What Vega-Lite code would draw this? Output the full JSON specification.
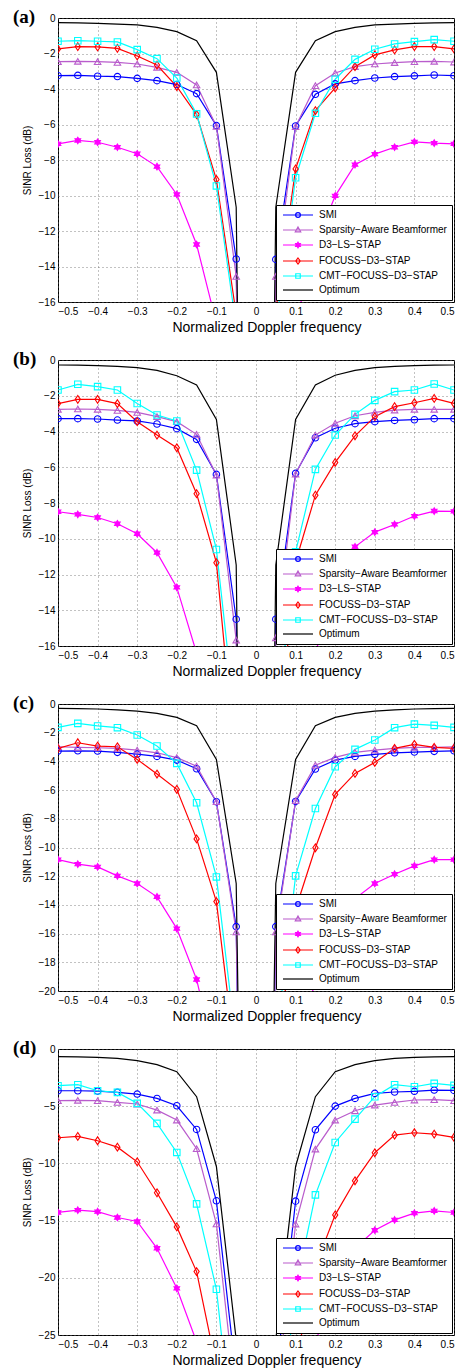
{
"$schema": "https://vega.github.io/schema/vega-lite/v6.json",
"background": "white",
"padding": {"left": 12, "top": 7, "right": 5, "bottom": 0},
"datasets": {
"names": [{"k":"SMI","name":"SMI"},{"k":"SAB","name":"Sparsity−Aware Beamformer"},{"k":"D3","name":"D3−LS−STAP"},{"k":"FOC","name":"FOCUSS−D3−STAP"},{"k":"CMT","name":"CMT−FOCUSS−D3−STAP"},{"k":"OPT","name":"Optimum"}],
"sinr": [
{"p":"a","k":"SMI","f":-0.5,"v":-3.25},{"p":"a","k":"SMI","f":-0.45,"v":-3.23},{"p":"a","k":"SMI","f":-0.4,"v":-3.28},{"p":"a","k":"SMI","f":-0.35,"v":-3.3},{"p":"a","k":"SMI","f":-0.3,"v":-3.4},{"p":"a","k":"SMI","f":-0.25,"v":-3.53},{"p":"a","k":"SMI","f":-0.2,"v":-3.75},{"p":"a","k":"SMI","f":-0.15,"v":-4.26},{"p":"a","k":"SMI","f":-0.1,"v":-6.06},{"p":"a","k":"SMI","f":-0.05,"v":-13.58},{"p":"a","k":"SMI","f":0,"v":-100},{"p":"a","k":"SMI","f":0.05,"v":-13.6},{"p":"a","k":"SMI","f":0.1,"v":-6.08},{"p":"a","k":"SMI","f":0.15,"v":-4.3},{"p":"a","k":"SMI","f":0.2,"v":-3.71},{"p":"a","k":"SMI","f":0.25,"v":-3.53},{"p":"a","k":"SMI","f":0.3,"v":-3.38},{"p":"a","k":"SMI","f":0.35,"v":-3.3},{"p":"a","k":"SMI","f":0.4,"v":-3.26},{"p":"a","k":"SMI","f":0.45,"v":-3.21},{"p":"a","k":"SMI","f":0.5,"v":-3.25},
{"p":"a","k":"SAB","f":-0.5,"v":-2.46},{"p":"a","k":"SAB","f":-0.45,"v":-2.44},{"p":"a","k":"SAB","f":-0.4,"v":-2.46},{"p":"a","k":"SAB","f":-0.35,"v":-2.5},{"p":"a","k":"SAB","f":-0.3,"v":-2.59},{"p":"a","k":"SAB","f":-0.25,"v":-2.78},{"p":"a","k":"SAB","f":-0.2,"v":-3.06},{"p":"a","k":"SAB","f":-0.15,"v":-3.77},{"p":"a","k":"SAB","f":-0.1,"v":-6.1},{"p":"a","k":"SAB","f":-0.05,"v":-14.56},{"p":"a","k":"SAB","f":0,"v":-100},{"p":"a","k":"SAB","f":0.05,"v":-14.56},{"p":"a","k":"SAB","f":0.1,"v":-6.12},{"p":"a","k":"SAB","f":0.15,"v":-3.81},{"p":"a","k":"SAB","f":0.2,"v":-3.1},{"p":"a","k":"SAB","f":0.25,"v":-2.74},{"p":"a","k":"SAB","f":0.3,"v":-2.59},{"p":"a","k":"SAB","f":0.35,"v":-2.51},{"p":"a","k":"SAB","f":0.4,"v":-2.46},{"p":"a","k":"SAB","f":0.45,"v":-2.44},{"p":"a","k":"SAB","f":0.5,"v":-2.48},
{"p":"a","k":"D3","f":-0.5,"v":-7.09},{"p":"a","k":"D3","f":-0.45,"v":-6.9},{"p":"a","k":"D3","f":-0.4,"v":-7.0},{"p":"a","k":"D3","f":-0.35,"v":-7.28},{"p":"a","k":"D3","f":-0.3,"v":-7.65},{"p":"a","k":"D3","f":-0.25,"v":-8.37},{"p":"a","k":"D3","f":-0.2,"v":-9.94},{"p":"a","k":"D3","f":-0.15,"v":-12.76},{"p":"a","k":"D3","f":-0.1,"v":-17.2},{"p":"a","k":"D3","f":-0.05,"v":-30},{"p":"a","k":"D3","f":0,"v":-100},{"p":"a","k":"D3","f":0.05,"v":-30},{"p":"a","k":"D3","f":0.1,"v":-17.2},{"p":"a","k":"D3","f":0.15,"v":-12.8},{"p":"a","k":"D3","f":0.2,"v":-10.02},{"p":"a","k":"D3","f":0.25,"v":-8.26},{"p":"a","k":"D3","f":0.3,"v":-7.67},{"p":"a","k":"D3","f":0.35,"v":-7.28},{"p":"a","k":"D3","f":0.4,"v":-6.98},{"p":"a","k":"D3","f":0.45,"v":-7.05},{"p":"a","k":"D3","f":0.5,"v":-7.09},
{"p":"a","k":"FOC","f":-0.5,"v":-1.74},{"p":"a","k":"FOC","f":-0.45,"v":-1.61},{"p":"a","k":"FOC","f":-0.4,"v":-1.63},{"p":"a","k":"FOC","f":-0.35,"v":-1.71},{"p":"a","k":"FOC","f":-0.3,"v":-2.14},{"p":"a","k":"FOC","f":-0.25,"v":-2.65},{"p":"a","k":"FOC","f":-0.2,"v":-3.86},{"p":"a","k":"FOC","f":-0.15,"v":-5.44},{"p":"a","k":"FOC","f":-0.1,"v":-9.1},{"p":"a","k":"FOC","f":-0.05,"v":-16.7},{"p":"a","k":"FOC","f":0,"v":-100},{"p":"a","k":"FOC","f":0.05,"v":-16.5},{"p":"a","k":"FOC","f":0.1,"v":-8.5},{"p":"a","k":"FOC","f":0.15,"v":-5.22},{"p":"a","k":"FOC","f":0.2,"v":-3.94},{"p":"a","k":"FOC","f":0.25,"v":-2.74},{"p":"a","k":"FOC","f":0.3,"v":-2.08},{"p":"a","k":"FOC","f":0.35,"v":-1.8},{"p":"a","k":"FOC","f":0.4,"v":-1.61},{"p":"a","k":"FOC","f":0.45,"v":-1.61},{"p":"a","k":"FOC","f":0.5,"v":-1.74},
{"p":"a","k":"CMT","f":-0.5,"v":-1.31},{"p":"a","k":"CMT","f":-0.45,"v":-1.28},{"p":"a","k":"CMT","f":-0.4,"v":-1.31},{"p":"a","k":"CMT","f":-0.35,"v":-1.35},{"p":"a","k":"CMT","f":-0.3,"v":-1.78},{"p":"a","k":"CMT","f":-0.25,"v":-2.29},{"p":"a","k":"CMT","f":-0.2,"v":-3.38},{"p":"a","k":"CMT","f":-0.15,"v":-5.4},{"p":"a","k":"CMT","f":-0.1,"v":-9.46},{"p":"a","k":"CMT","f":-0.05,"v":-17.4},{"p":"a","k":"CMT","f":0,"v":-100},{"p":"a","k":"CMT","f":0.05,"v":-17.4},{"p":"a","k":"CMT","f":0.1,"v":-9.0},{"p":"a","k":"CMT","f":0.15,"v":-5.37},{"p":"a","k":"CMT","f":0.2,"v":-3.45},{"p":"a","k":"CMT","f":0.25,"v":-2.33},{"p":"a","k":"CMT","f":0.3,"v":-1.76},{"p":"a","k":"CMT","f":0.35,"v":-1.46},{"p":"a","k":"CMT","f":0.4,"v":-1.33},{"p":"a","k":"CMT","f":0.45,"v":-1.22},{"p":"a","k":"CMT","f":0.5,"v":-1.31},
{"p":"a","k":"OPT","f":-0.5,"v":-0.26},{"p":"a","k":"OPT","f":-0.45,"v":-0.28},{"p":"a","k":"OPT","f":-0.4,"v":-0.3},{"p":"a","k":"OPT","f":-0.35,"v":-0.34},{"p":"a","k":"OPT","f":-0.3,"v":-0.39},{"p":"a","k":"OPT","f":-0.25,"v":-0.53},{"p":"a","k":"OPT","f":-0.2,"v":-0.77},{"p":"a","k":"OPT","f":-0.15,"v":-1.28},{"p":"a","k":"OPT","f":-0.1,"v":-3.06},{"p":"a","k":"OPT","f":-0.05,"v":-10.66},{"p":"a","k":"OPT","f":0,"v":-100},{"p":"a","k":"OPT","f":0.05,"v":-10.66},{"p":"a","k":"OPT","f":0.1,"v":-3.06},{"p":"a","k":"OPT","f":0.15,"v":-1.28},{"p":"a","k":"OPT","f":0.2,"v":-0.77},{"p":"a","k":"OPT","f":0.25,"v":-0.53},{"p":"a","k":"OPT","f":0.3,"v":-0.39},{"p":"a","k":"OPT","f":0.35,"v":-0.34},{"p":"a","k":"OPT","f":0.4,"v":-0.3},{"p":"a","k":"OPT","f":0.45,"v":-0.28},{"p":"a","k":"OPT","f":0.5,"v":-0.26},
{"p":"b","k":"SMI","f":-0.5,"v":-3.28},{"p":"b","k":"SMI","f":-0.45,"v":-3.28},{"p":"b","k":"SMI","f":-0.4,"v":-3.3},{"p":"b","k":"SMI","f":-0.35,"v":-3.36},{"p":"b","k":"SMI","f":-0.3,"v":-3.41},{"p":"b","k":"SMI","f":-0.25,"v":-3.58},{"p":"b","k":"SMI","f":-0.2,"v":-3.84},{"p":"b","k":"SMI","f":-0.15,"v":-4.44},{"p":"b","k":"SMI","f":-0.1,"v":-6.4},{"p":"b","k":"SMI","f":-0.05,"v":-14.5},{"p":"b","k":"SMI","f":0,"v":-100},{"p":"b","k":"SMI","f":0.05,"v":-14.5},{"p":"b","k":"SMI","f":0.1,"v":-6.34},{"p":"b","k":"SMI","f":0.15,"v":-4.35},{"p":"b","k":"SMI","f":0.2,"v":-3.82},{"p":"b","k":"SMI","f":0.25,"v":-3.56},{"p":"b","k":"SMI","f":0.3,"v":-3.45},{"p":"b","k":"SMI","f":0.35,"v":-3.38},{"p":"b","k":"SMI","f":0.4,"v":-3.34},{"p":"b","k":"SMI","f":0.45,"v":-3.28},{"p":"b","k":"SMI","f":0.5,"v":-3.28},
{"p":"b","k":"SAB","f":-0.5,"v":-2.76},{"p":"b","k":"SAB","f":-0.45,"v":-2.74},{"p":"b","k":"SAB","f":-0.4,"v":-2.76},{"p":"b","k":"SAB","f":-0.35,"v":-2.82},{"p":"b","k":"SAB","f":-0.3,"v":-2.93},{"p":"b","k":"SAB","f":-0.25,"v":-3.17},{"p":"b","k":"SAB","f":-0.2,"v":-3.45},{"p":"b","k":"SAB","f":-0.15,"v":-4.16},{"p":"b","k":"SAB","f":-0.1,"v":-6.44},{"p":"b","k":"SAB","f":-0.05,"v":-15.67},{"p":"b","k":"SAB","f":0,"v":-100},{"p":"b","k":"SAB","f":0.05,"v":-15.54},{"p":"b","k":"SAB","f":0.1,"v":-6.38},{"p":"b","k":"SAB","f":0.15,"v":-4.2},{"p":"b","k":"SAB","f":0.2,"v":-3.54},{"p":"b","k":"SAB","f":0.25,"v":-3.12},{"p":"b","k":"SAB","f":0.3,"v":-2.93},{"p":"b","k":"SAB","f":0.35,"v":-2.8},{"p":"b","k":"SAB","f":0.4,"v":-2.76},{"p":"b","k":"SAB","f":0.45,"v":-2.76},{"p":"b","k":"SAB","f":0.5,"v":-2.76},
{"p":"b","k":"D3","f":-0.5,"v":-8.49},{"p":"b","k":"D3","f":-0.45,"v":-8.64},{"p":"b","k":"D3","f":-0.4,"v":-8.81},{"p":"b","k":"D3","f":-0.35,"v":-9.16},{"p":"b","k":"D3","f":-0.3,"v":-9.72},{"p":"b","k":"D3","f":-0.25,"v":-10.78},{"p":"b","k":"D3","f":-0.2,"v":-12.72},{"p":"b","k":"D3","f":-0.15,"v":-16.4},{"p":"b","k":"D3","f":-0.1,"v":-24},{"p":"b","k":"D3","f":-0.05,"v":-35},{"p":"b","k":"D3","f":0,"v":-100},{"p":"b","k":"D3","f":0.05,"v":-35},{"p":"b","k":"D3","f":0.1,"v":-24},{"p":"b","k":"D3","f":0.15,"v":-16.4},{"p":"b","k":"D3","f":0.2,"v":-12.5},{"p":"b","k":"D3","f":0.25,"v":-10.45},{"p":"b","k":"D3","f":0.3,"v":-9.63},{"p":"b","k":"D3","f":0.35,"v":-9.2},{"p":"b","k":"D3","f":0.4,"v":-8.73},{"p":"b","k":"D3","f":0.45,"v":-8.45},{"p":"b","k":"D3","f":0.5,"v":-8.47},
{"p":"b","k":"FOC","f":-0.5,"v":-2.44},{"p":"b","k":"FOC","f":-0.45,"v":-2.2},{"p":"b","k":"FOC","f":-0.4,"v":-2.2},{"p":"b","k":"FOC","f":-0.35,"v":-2.44},{"p":"b","k":"FOC","f":-0.3,"v":-3.45},{"p":"b","k":"FOC","f":-0.25,"v":-4.2},{"p":"b","k":"FOC","f":-0.2,"v":-4.91},{"p":"b","k":"FOC","f":-0.15,"v":-7.48},{"p":"b","k":"FOC","f":-0.1,"v":-11.34},{"p":"b","k":"FOC","f":-0.05,"v":-23},{"p":"b","k":"FOC","f":0,"v":-100},{"p":"b","k":"FOC","f":0.05,"v":-23},{"p":"b","k":"FOC","f":0.1,"v":-11.3},{"p":"b","k":"FOC","f":0.15,"v":-7.56},{"p":"b","k":"FOC","f":0.2,"v":-5.73},{"p":"b","k":"FOC","f":0.25,"v":-4.24},{"p":"b","k":"FOC","f":0.3,"v":-3.17},{"p":"b","k":"FOC","f":0.35,"v":-2.61},{"p":"b","k":"FOC","f":0.4,"v":-2.39},{"p":"b","k":"FOC","f":0.45,"v":-2.15},{"p":"b","k":"FOC","f":0.5,"v":-2.43},
{"p":"b","k":"CMT","f":-0.5,"v":-1.68},{"p":"b","k":"CMT","f":-0.45,"v":-1.36},{"p":"b","k":"CMT","f":-0.4,"v":-1.49},{"p":"b","k":"CMT","f":-0.35,"v":-1.68},{"p":"b","k":"CMT","f":-0.3,"v":-2.43},{"p":"b","k":"CMT","f":-0.25,"v":-3.08},{"p":"b","k":"CMT","f":-0.2,"v":-3.41},{"p":"b","k":"CMT","f":-0.15,"v":-6.16},{"p":"b","k":"CMT","f":-0.1,"v":-10.6},{"p":"b","k":"CMT","f":-0.05,"v":-20.6},{"p":"b","k":"CMT","f":0,"v":-100},{"p":"b","k":"CMT","f":0.05,"v":-20.6},{"p":"b","k":"CMT","f":0.1,"v":-10.73},{"p":"b","k":"CMT","f":0.15,"v":-6.12},{"p":"b","k":"CMT","f":0.2,"v":-4.2},{"p":"b","k":"CMT","f":0.25,"v":-3.04},{"p":"b","k":"CMT","f":0.3,"v":-2.26},{"p":"b","k":"CMT","f":0.35,"v":-1.77},{"p":"b","k":"CMT","f":0.4,"v":-1.68},{"p":"b","k":"CMT","f":0.45,"v":-1.34},{"p":"b","k":"CMT","f":0.5,"v":-1.68},
{"p":"b","k":"OPT","f":-0.5,"v":-0.28},{"p":"b","k":"OPT","f":-0.45,"v":-0.29},{"p":"b","k":"OPT","f":-0.4,"v":-0.32},{"p":"b","k":"OPT","f":-0.35,"v":-0.36},{"p":"b","k":"OPT","f":-0.3,"v":-0.43},{"p":"b","k":"OPT","f":-0.25,"v":-0.58},{"p":"b","k":"OPT","f":-0.2,"v":-0.88},{"p":"b","k":"OPT","f":-0.15,"v":-1.4},{"p":"b","k":"OPT","f":-0.1,"v":-3.32},{"p":"b","k":"OPT","f":-0.05,"v":-11.47},{"p":"b","k":"OPT","f":0,"v":-100},{"p":"b","k":"OPT","f":0.05,"v":-11.47},{"p":"b","k":"OPT","f":0.1,"v":-3.32},{"p":"b","k":"OPT","f":0.15,"v":-1.4},{"p":"b","k":"OPT","f":0.2,"v":-0.85},{"p":"b","k":"OPT","f":0.25,"v":-0.58},{"p":"b","k":"OPT","f":0.3,"v":-0.43},{"p":"b","k":"OPT","f":0.35,"v":-0.36},{"p":"b","k":"OPT","f":0.4,"v":-0.32},{"p":"b","k":"OPT","f":0.45,"v":-0.29},{"p":"b","k":"OPT","f":0.5,"v":-0.28},
{"p":"c","k":"SMI","f":-0.5,"v":-3.28},{"p":"c","k":"SMI","f":-0.45,"v":-3.26},{"p":"c","k":"SMI","f":-0.4,"v":-3.28},{"p":"c","k":"SMI","f":-0.35,"v":-3.37},{"p":"c","k":"SMI","f":-0.3,"v":-3.49},{"p":"c","k":"SMI","f":-0.25,"v":-3.65},{"p":"c","k":"SMI","f":-0.2,"v":-3.91},{"p":"c","k":"SMI","f":-0.15,"v":-4.51},{"p":"c","k":"SMI","f":-0.1,"v":-6.81},{"p":"c","k":"SMI","f":-0.05,"v":-15.51},{"p":"c","k":"SMI","f":0,"v":-100},{"p":"c","k":"SMI","f":0.05,"v":-15.51},{"p":"c","k":"SMI","f":0.1,"v":-6.79},{"p":"c","k":"SMI","f":0.15,"v":-4.53},{"p":"c","k":"SMI","f":0.2,"v":-3.91},{"p":"c","k":"SMI","f":0.25,"v":-3.65},{"p":"c","k":"SMI","f":0.3,"v":-3.51},{"p":"c","k":"SMI","f":0.35,"v":-3.4},{"p":"c","k":"SMI","f":0.4,"v":-3.35},{"p":"c","k":"SMI","f":0.45,"v":-3.3},{"p":"c","k":"SMI","f":0.5,"v":-3.26},
{"p":"c","k":"SAB","f":-0.5,"v":-2.98},{"p":"c","k":"SAB","f":-0.45,"v":-3.02},{"p":"c","k":"SAB","f":-0.4,"v":-3.05},{"p":"c","k":"SAB","f":-0.35,"v":-3.09},{"p":"c","k":"SAB","f":-0.3,"v":-3.21},{"p":"c","k":"SAB","f":-0.25,"v":-3.4},{"p":"c","k":"SAB","f":-0.2,"v":-3.74},{"p":"c","k":"SAB","f":-0.15,"v":-4.33},{"p":"c","k":"SAB","f":-0.1,"v":-6.81},{"p":"c","k":"SAB","f":-0.05,"v":-15.88},{"p":"c","k":"SAB","f":0,"v":-100},{"p":"c","k":"SAB","f":0.05,"v":-15.88},{"p":"c","k":"SAB","f":0.1,"v":-6.74},{"p":"c","k":"SAB","f":0.15,"v":-4.26},{"p":"c","k":"SAB","f":0.2,"v":-3.72},{"p":"c","k":"SAB","f":0.25,"v":-3.37},{"p":"c","k":"SAB","f":0.3,"v":-3.21},{"p":"c","k":"SAB","f":0.35,"v":-3.09},{"p":"c","k":"SAB","f":0.4,"v":-3.02},{"p":"c","k":"SAB","f":0.45,"v":-3.02},{"p":"c","k":"SAB","f":0.5,"v":-2.98},
{"p":"c","k":"D3","f":-0.5,"v":-10.84},{"p":"c","k":"D3","f":-0.45,"v":-11.16},{"p":"c","k":"D3","f":-0.4,"v":-11.35},{"p":"c","k":"D3","f":-0.35,"v":-11.98},{"p":"c","k":"D3","f":-0.3,"v":-12.51},{"p":"c","k":"D3","f":-0.25,"v":-13.44},{"p":"c","k":"D3","f":-0.2,"v":-15.65},{"p":"c","k":"D3","f":-0.15,"v":-19.2},{"p":"c","k":"D3","f":-0.1,"v":-25},{"p":"c","k":"D3","f":-0.05,"v":-35},{"p":"c","k":"D3","f":0,"v":-100},{"p":"c","k":"D3","f":0.05,"v":-35},{"p":"c","k":"D3","f":0.1,"v":-25},{"p":"c","k":"D3","f":0.15,"v":-19.2},{"p":"c","k":"D3","f":0.2,"v":-15.6},{"p":"c","k":"D3","f":0.25,"v":-13.56},{"p":"c","k":"D3","f":0.3,"v":-12.51},{"p":"c","k":"D3","f":0.35,"v":-11.86},{"p":"c","k":"D3","f":0.4,"v":-11.28},{"p":"c","k":"D3","f":0.45,"v":-10.84},{"p":"c","k":"D3","f":0.5,"v":-10.84},
{"p":"c","k":"FOC","f":-0.5,"v":-3.09},{"p":"c","k":"FOC","f":-0.45,"v":-2.7},{"p":"c","k":"FOC","f":-0.4,"v":-2.93},{"p":"c","k":"FOC","f":-0.35,"v":-2.98},{"p":"c","k":"FOC","f":-0.3,"v":-3.86},{"p":"c","k":"FOC","f":-0.25,"v":-4.88},{"p":"c","k":"FOC","f":-0.2,"v":-5.95},{"p":"c","k":"FOC","f":-0.15,"v":-9.4},{"p":"c","k":"FOC","f":-0.1,"v":-13.77},{"p":"c","k":"FOC","f":-0.05,"v":-25.2},{"p":"c","k":"FOC","f":0,"v":-100},{"p":"c","k":"FOC","f":0.05,"v":-25.2},{"p":"c","k":"FOC","f":0.1,"v":-14.3},{"p":"c","k":"FOC","f":0.15,"v":-10.02},{"p":"c","k":"FOC","f":0.2,"v":-6.3},{"p":"c","k":"FOC","f":0.25,"v":-4.84},{"p":"c","k":"FOC","f":0.3,"v":-4.07},{"p":"c","k":"FOC","f":0.35,"v":-3.09},{"p":"c","k":"FOC","f":0.4,"v":-2.81},{"p":"c","k":"FOC","f":0.45,"v":-3.02},{"p":"c","k":"FOC","f":0.5,"v":-3.09},
{"p":"c","k":"CMT","f":-0.5,"v":-1.63},{"p":"c","k":"CMT","f":-0.45,"v":-1.35},{"p":"c","k":"CMT","f":-0.4,"v":-1.53},{"p":"c","k":"CMT","f":-0.35,"v":-1.65},{"p":"c","k":"CMT","f":-0.3,"v":-2.16},{"p":"c","k":"CMT","f":-0.25,"v":-2.93},{"p":"c","k":"CMT","f":-0.2,"v":-4.14},{"p":"c","k":"CMT","f":-0.15,"v":-6.88},{"p":"c","k":"CMT","f":-0.1,"v":-12.05},{"p":"c","k":"CMT","f":-0.05,"v":-23.7},{"p":"c","k":"CMT","f":0,"v":-100},{"p":"c","k":"CMT","f":0.05,"v":-23.7},{"p":"c","k":"CMT","f":0.1,"v":-11.98},{"p":"c","k":"CMT","f":0.15,"v":-7.28},{"p":"c","k":"CMT","f":0.2,"v":-4.37},{"p":"c","k":"CMT","f":0.25,"v":-3.16},{"p":"c","k":"CMT","f":0.3,"v":-2.51},{"p":"c","k":"CMT","f":0.35,"v":-1.65},{"p":"c","k":"CMT","f":0.4,"v":-1.4},{"p":"c","k":"CMT","f":0.45,"v":-1.49},{"p":"c","k":"CMT","f":0.5,"v":-1.63},
{"p":"c","k":"OPT","f":-0.5,"v":-0.3},{"p":"c","k":"OPT","f":-0.45,"v":-0.32},{"p":"c","k":"OPT","f":-0.4,"v":-0.35},{"p":"c","k":"OPT","f":-0.35,"v":-0.41},{"p":"c","k":"OPT","f":-0.3,"v":-0.49},{"p":"c","k":"OPT","f":-0.25,"v":-0.65},{"p":"c","k":"OPT","f":-0.2,"v":-0.93},{"p":"c","k":"OPT","f":-0.15,"v":-1.51},{"p":"c","k":"OPT","f":-0.1,"v":-3.86},{"p":"c","k":"OPT","f":-0.05,"v":-12.51},{"p":"c","k":"OPT","f":0,"v":-100},{"p":"c","k":"OPT","f":0.05,"v":-12.51},{"p":"c","k":"OPT","f":0.1,"v":-3.86},{"p":"c","k":"OPT","f":0.15,"v":-1.51},{"p":"c","k":"OPT","f":0.2,"v":-0.93},{"p":"c","k":"OPT","f":0.25,"v":-0.65},{"p":"c","k":"OPT","f":0.3,"v":-0.49},{"p":"c","k":"OPT","f":0.35,"v":-0.41},{"p":"c","k":"OPT","f":0.4,"v":-0.35},{"p":"c","k":"OPT","f":0.45,"v":-0.32},{"p":"c","k":"OPT","f":0.5,"v":-0.3},
{"p":"d","k":"SMI","f":-0.5,"v":-3.65},{"p":"d","k":"SMI","f":-0.45,"v":-3.65},{"p":"d","k":"SMI","f":-0.4,"v":-3.68},{"p":"d","k":"SMI","f":-0.35,"v":-3.79},{"p":"d","k":"SMI","f":-0.3,"v":-3.94},{"p":"d","k":"SMI","f":-0.25,"v":-4.32},{"p":"d","k":"SMI","f":-0.2,"v":-4.96},{"p":"d","k":"SMI","f":-0.15,"v":-7.03},{"p":"d","k":"SMI","f":-0.1,"v":-13.27},{"p":"d","k":"SMI","f":-0.05,"v":-28.7},{"p":"d","k":"SMI","f":0,"v":-100},{"p":"d","k":"SMI","f":0.05,"v":-28.7},{"p":"d","k":"SMI","f":0.1,"v":-13.3},{"p":"d","k":"SMI","f":0.15,"v":-7.06},{"p":"d","k":"SMI","f":0.2,"v":-4.99},{"p":"d","k":"SMI","f":0.25,"v":-4.32},{"p":"d","k":"SMI","f":0.3,"v":-3.88},{"p":"d","k":"SMI","f":0.35,"v":-3.76},{"p":"d","k":"SMI","f":0.4,"v":-3.7},{"p":"d","k":"SMI","f":0.45,"v":-3.59},{"p":"d","k":"SMI","f":0.5,"v":-3.62},
{"p":"d","k":"SAB","f":-0.5,"v":-4.52},{"p":"d","k":"SAB","f":-0.45,"v":-4.49},{"p":"d","k":"SAB","f":-0.4,"v":-4.52},{"p":"d","k":"SAB","f":-0.35,"v":-4.67},{"p":"d","k":"SAB","f":-0.3,"v":-4.81},{"p":"d","k":"SAB","f":-0.25,"v":-5.34},{"p":"d","k":"SAB","f":-0.2,"v":-6.21},{"p":"d","k":"SAB","f":-0.15,"v":-8.72},{"p":"d","k":"SAB","f":-0.1,"v":-15.29},{"p":"d","k":"SAB","f":-0.05,"v":-30.9},{"p":"d","k":"SAB","f":0,"v":-100},{"p":"d","k":"SAB","f":0.05,"v":-30.9},{"p":"d","k":"SAB","f":0.1,"v":-15.3},{"p":"d","k":"SAB","f":0.15,"v":-8.75},{"p":"d","k":"SAB","f":0.2,"v":-6.21},{"p":"d","k":"SAB","f":0.25,"v":-5.4},{"p":"d","k":"SAB","f":0.3,"v":-4.9},{"p":"d","k":"SAB","f":0.35,"v":-4.67},{"p":"d","k":"SAB","f":0.4,"v":-4.46},{"p":"d","k":"SAB","f":0.45,"v":-4.43},{"p":"d","k":"SAB","f":0.5,"v":-4.52},
{"p":"d","k":"D3","f":-0.5,"v":-14.29},{"p":"d","k":"D3","f":-0.45,"v":-14.09},{"p":"d","k":"D3","f":-0.4,"v":-14.21},{"p":"d","k":"D3","f":-0.35,"v":-14.73},{"p":"d","k":"D3","f":-0.3,"v":-15.08},{"p":"d","k":"D3","f":-0.25,"v":-17.42},{"p":"d","k":"D3","f":-0.2,"v":-20.92},{"p":"d","k":"D3","f":-0.15,"v":-25.6},{"p":"d","k":"D3","f":-0.1,"v":-35},{"p":"d","k":"D3","f":-0.05,"v":-45},{"p":"d","k":"D3","f":0,"v":-100},{"p":"d","k":"D3","f":0.05,"v":-45},{"p":"d","k":"D3","f":0.1,"v":-35},{"p":"d","k":"D3","f":0.15,"v":-25.6},{"p":"d","k":"D3","f":0.2,"v":-20.9},{"p":"d","k":"D3","f":0.25,"v":-17.4},{"p":"d","k":"D3","f":0.3,"v":-15.84},{"p":"d","k":"D3","f":0.35,"v":-14.94},{"p":"d","k":"D3","f":0.4,"v":-14.35},{"p":"d","k":"D3","f":0.45,"v":-14.15},{"p":"d","k":"D3","f":0.5,"v":-14.29},
{"p":"d","k":"FOC","f":-0.5,"v":-7.76},{"p":"d","k":"FOC","f":-0.45,"v":-7.64},{"p":"d","k":"FOC","f":-0.4,"v":-8.02},{"p":"d","k":"FOC","f":-0.35,"v":-8.58},{"p":"d","k":"FOC","f":-0.3,"v":-9.86},{"p":"d","k":"FOC","f":-0.25,"v":-12.57},{"p":"d","k":"FOC","f":-0.2,"v":-15.55},{"p":"d","k":"FOC","f":-0.15,"v":-19.46},{"p":"d","k":"FOC","f":-0.1,"v":-27.8},{"p":"d","k":"FOC","f":-0.05,"v":-40},{"p":"d","k":"FOC","f":0,"v":-100},{"p":"d","k":"FOC","f":0.05,"v":-40},{"p":"d","k":"FOC","f":0.1,"v":-27.5},{"p":"d","k":"FOC","f":0.15,"v":-19.0},{"p":"d","k":"FOC","f":0.2,"v":-14.5},{"p":"d","k":"FOC","f":0.25,"v":-11.52},{"p":"d","k":"FOC","f":0.3,"v":-9.07},{"p":"d","k":"FOC","f":0.35,"v":-7.53},{"p":"d","k":"FOC","f":0.4,"v":-7.32},{"p":"d","k":"FOC","f":0.45,"v":-7.44},{"p":"d","k":"FOC","f":0.5,"v":-7.73},
{"p":"d","k":"CMT","f":-0.5,"v":-3.21},{"p":"d","k":"CMT","f":-0.45,"v":-3.12},{"p":"d","k":"CMT","f":-0.4,"v":-3.65},{"p":"d","k":"CMT","f":-0.35,"v":-3.79},{"p":"d","k":"CMT","f":-0.3,"v":-4.75},{"p":"d","k":"CMT","f":-0.25,"v":-6.5},{"p":"d","k":"CMT","f":-0.2,"v":-9.04},{"p":"d","k":"CMT","f":-0.15,"v":-13.54},{"p":"d","k":"CMT","f":-0.1,"v":-21.0},{"p":"d","k":"CMT","f":-0.05,"v":-36.6},{"p":"d","k":"CMT","f":0,"v":-100},{"p":"d","k":"CMT","f":0.05,"v":-36.6},{"p":"d","k":"CMT","f":0.1,"v":-21.0},{"p":"d","k":"CMT","f":0.15,"v":-12.75},{"p":"d","k":"CMT","f":0.2,"v":-8.17},{"p":"d","k":"CMT","f":0.25,"v":-6.13},{"p":"d","k":"CMT","f":0.3,"v":-4.17},{"p":"d","k":"CMT","f":0.35,"v":-3.12},{"p":"d","k":"CMT","f":0.4,"v":-3.3},{"p":"d","k":"CMT","f":0.45,"v":-3.0},{"p":"d","k":"CMT","f":0.5,"v":-3.18},
{"p":"d","k":"OPT","f":-0.5,"v":-0.67},{"p":"d","k":"OPT","f":-0.45,"v":-0.68},{"p":"d","k":"OPT","f":-0.4,"v":-0.73},{"p":"d","k":"OPT","f":-0.35,"v":-0.82},{"p":"d","k":"OPT","f":-0.3,"v":-1.02},{"p":"d","k":"OPT","f":-0.25,"v":-1.37},{"p":"d","k":"OPT","f":-0.2,"v":-1.98},{"p":"d","k":"OPT","f":-0.15,"v":-4.17},{"p":"d","k":"OPT","f":-0.1,"v":-10.27},{"p":"d","k":"OPT","f":-0.05,"v":-25.4},{"p":"d","k":"OPT","f":0,"v":-100},{"p":"d","k":"OPT","f":0.05,"v":-25.4},{"p":"d","k":"OPT","f":0.1,"v":-10.27},{"p":"d","k":"OPT","f":0.15,"v":-4.17},{"p":"d","k":"OPT","f":0.2,"v":-1.98},{"p":"d","k":"OPT","f":0.25,"v":-1.37},{"p":"d","k":"OPT","f":0.3,"v":-1.02},{"p":"d","k":"OPT","f":0.35,"v":-0.82},{"p":"d","k":"OPT","f":0.4,"v":-0.73},{"p":"d","k":"OPT","f":0.45,"v":-0.68},{"p":"d","k":"OPT","f":0.5,"v":-0.67}
]
},
"data": {"name": "sinr"},
"spacing": 58,
"bounds": "flush",
"resolve": {"scale": {"color": "independent", "shape": "independent", "fill": "independent", "strokeWidth": "independent", "y": "independent", "x": "independent"}, "legend": {"color": "independent"}},
"vconcat": [
{
"width": 396, "height": 284,
"title": {"text": "(a)", "anchor": "start", "frame": "group", "orient": "top", "font": "Liberation Serif", "fontWeight": "bold", "fontSize": 19, "color": "#000", "offset": -24, "dx": -45, "dy": 5, "baseline": "alphabetic"},
"transform": [{"filter": {"field": "p", "equal": "a"}}, {"lookup": "k", "from": {"data": {"name": "names"}, "key": "k", "fields": ["name"]}}],
"encoding": {
"x": {"field": "f", "type": "quantitative", "scale": {"domain": [-0.5, 0.5], "nice": false, "zero": false}, "axis": {"values": [-0.5,-0.4,-0.3,-0.2,-0.1,0,0.1,0.2,0.3,0.4,0.5], "format": "~g", "title": "Normalized Doppler frequency", "titleX": 208.5, "titleY": 29, "titleBaseline": "alphabetic"}},
"y": {"field": "v", "type": "quantitative", "scale": {"domain": [-16, 0], "nice": false, "zero": false}, "axis": {"values": [-16,-14,-12,-10,-8,-6,-4,-2,0], "title": "SINR Loss (dB)"}}
},
"layer": [
{"mark": {"type": "line", "clip": true},
"encoding": {
"color": {"field": "name", "type": "nominal", "scale": {"domain": ["SMI","Sparsity−Aware Beamformer","D3−LS−STAP","FOCUSS−D3−STAP","CMT−FOCUSS−D3−STAP","Optimum"], "range": ["#0000ff","#b95ccc","#ff00ff","#ff0000","#00ffff","#000000"]},
"legend": {"title": null, "encode": {"symbols": {"update": {
"shape": {"signal": "datum.value === 'SMI' ? 'M-1,0L9,0M4.8,0A0.8,0.8,0,1,1,3.2,0A0.8,0.8,0,1,1,4.8,0' : datum.value === 'Sparsity−Aware Beamformer' ? 'M-1,0L9,0M4,-1L4.9,0.6L3.1,0.6Z' : datum.value === 'D3−LS−STAP' ? 'M-1,0L9,0M4,-0.9L4.26,-0.45L4.78,-0.45L4.52,0L4.78,0.45L4.26,0.45L4,0.9L3.74,0.45L3.22,0.45L3.48,0L3.22,-0.45L3.74,-0.45Z' : datum.value === 'FOCUSS−D3−STAP' ? 'M-1,0L9,0M4,-1L4.75,0L4,1L3.25,0Z' : datum.value === 'CMT−FOCUSS−D3−STAP' ? 'M-1,0L9,0M3.25,-0.75L4.75,-0.75L4.75,0.75L3.25,0.75Z' : 'M-1,0L9,0'"},
"fill": {"signal": "datum.value === 'D3−LS−STAP' ? '#ff00ff' : 'transparent'"},
"strokeWidth": {"signal": "datum.value === 'Optimum' ? 2.4 : 1.2"},
"opacity": {"value": 1}}}}}},
"strokeWidth": {"field": "name", "type": "nominal", "scale": {"domain": ["SMI","Sparsity−Aware Beamformer","D3−LS−STAP","FOCUSS−D3−STAP","CMT−FOCUSS−D3−STAP","Optimum"], "range": [1.2,1.2,1.2,1.2,1.2,2.2]}, "legend": null}
}},
{"transform": [{"filter": "datum.k !== 'OPT'"}],
"mark": {"type": "point", "clip": true, "filled": false, "size": 42, "strokeWidth": 1.1, "opacity": 1},
"encoding": {
"color": {"field": "name", "type": "nominal", "legend": null},
"shape": {"field": "name", "type": "nominal", "scale": {"domain": ["SMI","Sparsity−Aware Beamformer","D3−LS−STAP","FOCUSS−D3−STAP","CMT−FOCUSS−D3−STAP"], "range": ["circle","triangle-up","M0,-1L0.289,-0.5L0.866,-0.5L0.577,0L0.866,0.5L0.289,0.5L0,1L-0.289,0.5L-0.866,0.5L-0.577,0L-0.866,-0.5L-0.289,-0.5Z","M0,-1.2L0.8,0L0,1.2L-0.8,0Z","square"]}, "legend": null},
"fill": {"field": "name", "type": "nominal", "scale": {"domain": ["SMI","Sparsity−Aware Beamformer","D3−LS−STAP","FOCUSS−D3−STAP","CMT−FOCUSS−D3−STAP"], "range": ["transparent","transparent","#ff00ff","transparent","transparent"]}, "legend": null}
}}
]
},
{
"width": 396, "height": 286,
"title": {"text": "(b)", "anchor": "start", "frame": "group", "orient": "top", "font": "Liberation Serif", "fontWeight": "bold", "fontSize": 19, "color": "#000", "offset": -24, "dx": -45, "dy": 5, "baseline": "alphabetic"},
"transform": [{"filter": {"field": "p", "equal": "b"}}, {"lookup": "k", "from": {"data": {"name": "names"}, "key": "k", "fields": ["name"]}}],
"encoding": {
"x": {"field": "f", "type": "quantitative", "scale": {"domain": [-0.5, 0.5], "nice": false, "zero": false}, "axis": {"values": [-0.5,-0.4,-0.3,-0.2,-0.1,0,0.1,0.2,0.3,0.4,0.5], "format": "~g", "title": "Normalized Doppler frequency", "titleX": 208.5, "titleY": 29, "titleBaseline": "alphabetic"}},
"y": {"field": "v", "type": "quantitative", "scale": {"domain": [-16, 0], "nice": false, "zero": false}, "axis": {"values": [-16,-14,-12,-10,-8,-6,-4,-2,0], "title": "SINR Loss (dB)"}}
},
"layer": [
{"mark": {"type": "line", "clip": true},
"encoding": {
"color": {"field": "name", "type": "nominal", "scale": {"domain": ["SMI","Sparsity−Aware Beamformer","D3−LS−STAP","FOCUSS−D3−STAP","CMT−FOCUSS−D3−STAP","Optimum"], "range": ["#0000ff","#b95ccc","#ff00ff","#ff0000","#00ffff","#000000"]},
"legend": {"title": null, "encode": {"symbols": {"update": {
"shape": {"signal": "datum.value === 'SMI' ? 'M-1,0L9,0M4.8,0A0.8,0.8,0,1,1,3.2,0A0.8,0.8,0,1,1,4.8,0' : datum.value === 'Sparsity−Aware Beamformer' ? 'M-1,0L9,0M4,-1L4.9,0.6L3.1,0.6Z' : datum.value === 'D3−LS−STAP' ? 'M-1,0L9,0M4,-0.9L4.26,-0.45L4.78,-0.45L4.52,0L4.78,0.45L4.26,0.45L4,0.9L3.74,0.45L3.22,0.45L3.48,0L3.22,-0.45L3.74,-0.45Z' : datum.value === 'FOCUSS−D3−STAP' ? 'M-1,0L9,0M4,-1L4.75,0L4,1L3.25,0Z' : datum.value === 'CMT−FOCUSS−D3−STAP' ? 'M-1,0L9,0M3.25,-0.75L4.75,-0.75L4.75,0.75L3.25,0.75Z' : 'M-1,0L9,0'"},
"fill": {"signal": "datum.value === 'D3−LS−STAP' ? '#ff00ff' : 'transparent'"},
"strokeWidth": {"signal": "datum.value === 'Optimum' ? 2.4 : 1.2"},
"opacity": {"value": 1}}}}}},
"strokeWidth": {"field": "name", "type": "nominal", "scale": {"domain": ["SMI","Sparsity−Aware Beamformer","D3−LS−STAP","FOCUSS−D3−STAP","CMT−FOCUSS−D3−STAP","Optimum"], "range": [1.2,1.2,1.2,1.2,1.2,2.2]}, "legend": null}
}},
{"transform": [{"filter": "datum.k !== 'OPT'"}],
"mark": {"type": "point", "clip": true, "filled": false, "size": 42, "strokeWidth": 1.1, "opacity": 1},
"encoding": {
"color": {"field": "name", "type": "nominal", "legend": null},
"shape": {"field": "name", "type": "nominal", "scale": {"domain": ["SMI","Sparsity−Aware Beamformer","D3−LS−STAP","FOCUSS−D3−STAP","CMT−FOCUSS−D3−STAP"], "range": ["circle","triangle-up","M0,-1L0.289,-0.5L0.866,-0.5L0.577,0L0.866,0.5L0.289,0.5L0,1L-0.289,0.5L-0.866,0.5L-0.577,0L-0.866,-0.5L-0.289,-0.5Z","M0,-1.2L0.8,0L0,1.2L-0.8,0Z","square"]}, "legend": null},
"fill": {"field": "name", "type": "nominal", "scale": {"domain": ["SMI","Sparsity−Aware Beamformer","D3−LS−STAP","FOCUSS−D3−STAP","CMT−FOCUSS−D3−STAP"], "range": ["transparent","transparent","#ff00ff","transparent","transparent"]}, "legend": null}
}}
]
},
{
"width": 396, "height": 287,
"title": {"text": "(c)", "anchor": "start", "frame": "group", "orient": "top", "font": "Liberation Serif", "fontWeight": "bold", "fontSize": 19, "color": "#000", "offset": -24, "dx": -45, "dy": 5, "baseline": "alphabetic"},
"transform": [{"filter": {"field": "p", "equal": "c"}}, {"lookup": "k", "from": {"data": {"name": "names"}, "key": "k", "fields": ["name"]}}],
"encoding": {
"x": {"field": "f", "type": "quantitative", "scale": {"domain": [-0.5, 0.5], "nice": false, "zero": false}, "axis": {"values": [-0.5,-0.4,-0.3,-0.2,-0.1,0,0.1,0.2,0.3,0.4,0.5], "format": "~g", "title": "Normalized Doppler frequency", "titleX": 208.5, "titleY": 29, "titleBaseline": "alphabetic"}},
"y": {"field": "v", "type": "quantitative", "scale": {"domain": [-20, 0], "nice": false, "zero": false}, "axis": {"values": [-20,-18,-16,-14,-12,-10,-8,-6,-4,-2,0], "title": "SINR Loss (dB)"}}
},
"layer": [
{"mark": {"type": "line", "clip": true},
"encoding": {
"color": {"field": "name", "type": "nominal", "scale": {"domain": ["SMI","Sparsity−Aware Beamformer","D3−LS−STAP","FOCUSS−D3−STAP","CMT−FOCUSS−D3−STAP","Optimum"], "range": ["#0000ff","#b95ccc","#ff00ff","#ff0000","#00ffff","#000000"]},
"legend": {"title": null, "encode": {"symbols": {"update": {
"shape": {"signal": "datum.value === 'SMI' ? 'M-1,0L9,0M4.8,0A0.8,0.8,0,1,1,3.2,0A0.8,0.8,0,1,1,4.8,0' : datum.value === 'Sparsity−Aware Beamformer' ? 'M-1,0L9,0M4,-1L4.9,0.6L3.1,0.6Z' : datum.value === 'D3−LS−STAP' ? 'M-1,0L9,0M4,-0.9L4.26,-0.45L4.78,-0.45L4.52,0L4.78,0.45L4.26,0.45L4,0.9L3.74,0.45L3.22,0.45L3.48,0L3.22,-0.45L3.74,-0.45Z' : datum.value === 'FOCUSS−D3−STAP' ? 'M-1,0L9,0M4,-1L4.75,0L4,1L3.25,0Z' : datum.value === 'CMT−FOCUSS−D3−STAP' ? 'M-1,0L9,0M3.25,-0.75L4.75,-0.75L4.75,0.75L3.25,0.75Z' : 'M-1,0L9,0'"},
"fill": {"signal": "datum.value === 'D3−LS−STAP' ? '#ff00ff' : 'transparent'"},
"strokeWidth": {"signal": "datum.value === 'Optimum' ? 2.4 : 1.2"},
"opacity": {"value": 1}}}}}},
"strokeWidth": {"field": "name", "type": "nominal", "scale": {"domain": ["SMI","Sparsity−Aware Beamformer","D3−LS−STAP","FOCUSS−D3−STAP","CMT−FOCUSS−D3−STAP","Optimum"], "range": [1.2,1.2,1.2,1.2,1.2,2.2]}, "legend": null}
}},
{"transform": [{"filter": "datum.k !== 'OPT'"}],
"mark": {"type": "point", "clip": true, "filled": false, "size": 42, "strokeWidth": 1.1, "opacity": 1},
"encoding": {
"color": {"field": "name", "type": "nominal", "legend": null},
"shape": {"field": "name", "type": "nominal", "scale": {"domain": ["SMI","Sparsity−Aware Beamformer","D3−LS−STAP","FOCUSS−D3−STAP","CMT−FOCUSS−D3−STAP"], "range": ["circle","triangle-up","M0,-1L0.289,-0.5L0.866,-0.5L0.577,0L0.866,0.5L0.289,0.5L0,1L-0.289,0.5L-0.866,0.5L-0.577,0L-0.866,-0.5L-0.289,-0.5Z","M0,-1.2L0.8,0L0,1.2L-0.8,0Z","square"]}, "legend": null},
"fill": {"field": "name", "type": "nominal", "scale": {"domain": ["SMI","Sparsity−Aware Beamformer","D3−LS−STAP","FOCUSS−D3−STAP","CMT−FOCUSS−D3−STAP"], "range": ["transparent","transparent","#ff00ff","transparent","transparent"]}, "legend": null}
}}
]
},
{
"width": 396, "height": 286,
"title": {"text": "(d)", "anchor": "start", "frame": "group", "orient": "top", "font": "Liberation Serif", "fontWeight": "bold", "fontSize": 19, "color": "#000", "offset": -24, "dx": -45, "dy": 5, "baseline": "alphabetic"},
"transform": [{"filter": {"field": "p", "equal": "d"}}, {"lookup": "k", "from": {"data": {"name": "names"}, "key": "k", "fields": ["name"]}}],
"encoding": {
"x": {"field": "f", "type": "quantitative", "scale": {"domain": [-0.5, 0.5], "nice": false, "zero": false}, "axis": {"values": [-0.5,-0.4,-0.3,-0.2,-0.1,0,0.1,0.2,0.3,0.4,0.5], "format": "~g", "title": "Normalized Doppler frequency", "titleX": 208.5, "titleY": 29, "titleBaseline": "alphabetic"}},
"y": {"field": "v", "type": "quantitative", "scale": {"domain": [-25, 0], "nice": false, "zero": false}, "axis": {"values": [-25,-20,-15,-10,-5,0], "title": "SINR Loss (dB)"}}
},
"layer": [
{"mark": {"type": "line", "clip": true},
"encoding": {
"color": {"field": "name", "type": "nominal", "scale": {"domain": ["SMI","Sparsity−Aware Beamformer","D3−LS−STAP","FOCUSS−D3−STAP","CMT−FOCUSS−D3−STAP","Optimum"], "range": ["#0000ff","#b95ccc","#ff00ff","#ff0000","#00ffff","#000000"]},
"legend": {"title": null, "encode": {"symbols": {"update": {
"shape": {"signal": "datum.value === 'SMI' ? 'M-1,0L9,0M4.8,0A0.8,0.8,0,1,1,3.2,0A0.8,0.8,0,1,1,4.8,0' : datum.value === 'Sparsity−Aware Beamformer' ? 'M-1,0L9,0M4,-1L4.9,0.6L3.1,0.6Z' : datum.value === 'D3−LS−STAP' ? 'M-1,0L9,0M4,-0.9L4.26,-0.45L4.78,-0.45L4.52,0L4.78,0.45L4.26,0.45L4,0.9L3.74,0.45L3.22,0.45L3.48,0L3.22,-0.45L3.74,-0.45Z' : datum.value === 'FOCUSS−D3−STAP' ? 'M-1,0L9,0M4,-1L4.75,0L4,1L3.25,0Z' : datum.value === 'CMT−FOCUSS−D3−STAP' ? 'M-1,0L9,0M3.25,-0.75L4.75,-0.75L4.75,0.75L3.25,0.75Z' : 'M-1,0L9,0'"},
"fill": {"signal": "datum.value === 'D3−LS−STAP' ? '#ff00ff' : 'transparent'"},
"strokeWidth": {"signal": "datum.value === 'Optimum' ? 2.4 : 1.2"},
"opacity": {"value": 1}}}}}},
"strokeWidth": {"field": "name", "type": "nominal", "scale": {"domain": ["SMI","Sparsity−Aware Beamformer","D3−LS−STAP","FOCUSS−D3−STAP","CMT−FOCUSS−D3−STAP","Optimum"], "range": [1.2,1.2,1.2,1.2,1.2,2.2]}, "legend": null}
}},
{"transform": [{"filter": "datum.k !== 'OPT'"}],
"mark": {"type": "point", "clip": true, "filled": false, "size": 42, "strokeWidth": 1.1, "opacity": 1},
"encoding": {
"color": {"field": "name", "type": "nominal", "legend": null},
"shape": {"field": "name", "type": "nominal", "scale": {"domain": ["SMI","Sparsity−Aware Beamformer","D3−LS−STAP","FOCUSS−D3−STAP","CMT−FOCUSS−D3−STAP"], "range": ["circle","triangle-up","M0,-1L0.289,-0.5L0.866,-0.5L0.577,0L0.866,0.5L0.289,0.5L0,1L-0.289,0.5L-0.866,0.5L-0.577,0L-0.866,-0.5L-0.289,-0.5Z","M0,-1.2L0.8,0L0,1.2L-0.8,0Z","square"]}, "legend": null},
"fill": {"field": "name", "type": "nominal", "scale": {"domain": ["SMI","Sparsity−Aware Beamformer","D3−LS−STAP","FOCUSS−D3−STAP","CMT−FOCUSS−D3−STAP"], "range": ["transparent","transparent","#ff00ff","transparent","transparent"]}, "legend": null}
}}
]
}
],
"config": {
"view": {"stroke": "#000", "strokeWidth": 1},
"axis": {"grid": true, "gridColor": "#666", "gridDash": [1, 3], "gridWidth": 0.8, "domain": false, "ticks": false, "labelFont": "Liberation Sans", "labelFontSize": 10, "labelColor": "#000", "titleFont": "Liberation Sans", "titleFontWeight": "normal", "titleColor": "#000"},
"axisX": {"labelPadding": 4, "titleFontSize": 14},
"axisY": {"labelPadding": 3, "titleFontSize": 10, "titlePadding": 6},
"legend": {"orient": "bottom-right", "offset": 2, "fillColor": "#fff", "strokeColor": "#000", "padding": 5, "cornerRadius": 0, "labelFont": "Liberation Sans", "labelFontSize": 10, "labelColor": "#000", "symbolSize": 36, "labelOffset": 28, "rowPadding": 4, "labelLimit": 300}
}
}
